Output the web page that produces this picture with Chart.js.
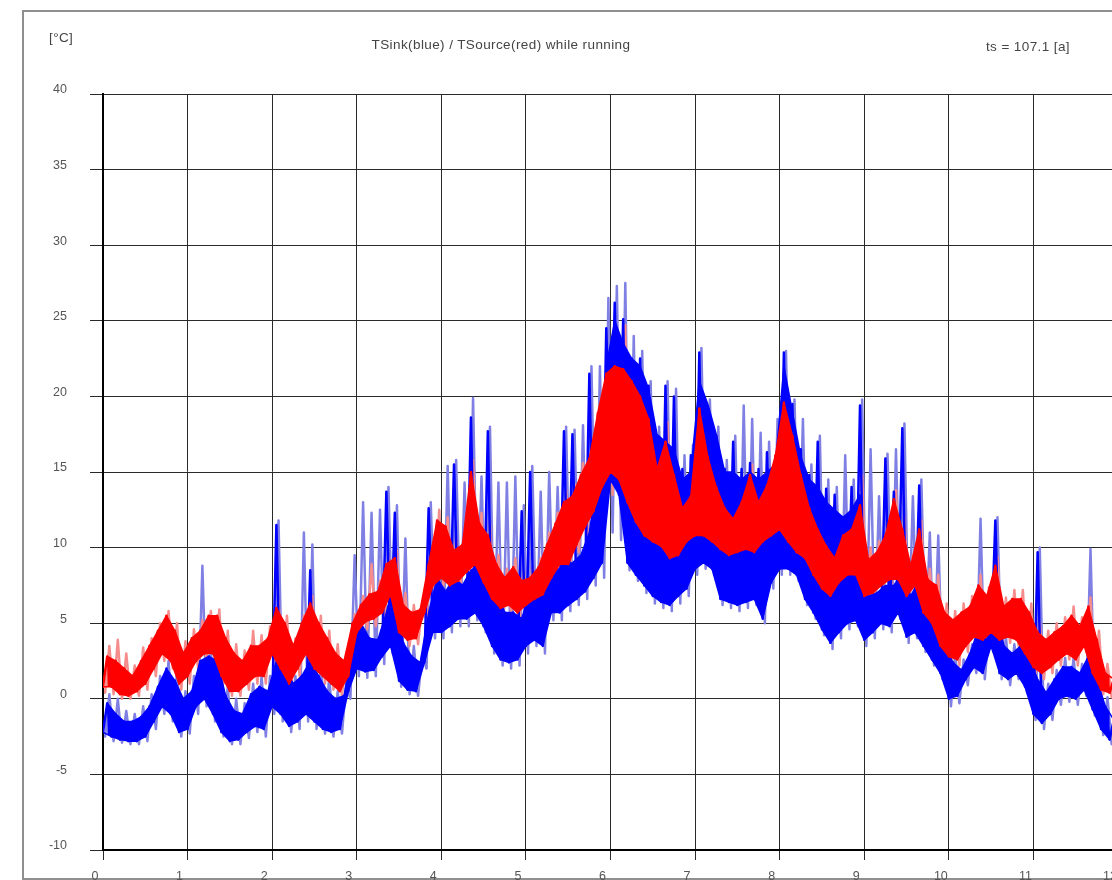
<!DOCTYPE html>
<html><head><meta charset="utf-8">
<script src="https://cdn.jsdelivr.net/npm/chart.js@4.4.1/dist/chart.umd.min.js"></script>
<style>
html,body{margin:0;padding:0;background:#fff;overflow:hidden;width:1112px;height:880px;}
#frame{position:absolute;left:22px;top:10px;width:1200px;height:866px;border:2px solid #8f8f8f;}
#wrap{position:absolute;left:0;top:0;width:1160px;height:900px;}
.lbl{position:absolute;font-family:"Liberation Sans",Arial,sans-serif;font-size:13.5px;letter-spacing:0.4px;line-height:16px;color:#444;white-space:nowrap;}
</style></head><body>
<div id="frame"></div>
<div id="wrap"><canvas id="c"></canvas></div>
<div class="lbl" style="left:49px;top:30px;">[°C]</div>
<div class="lbl" style="left:501px;top:37px;transform:translateX(-50%);">TSink(blue) / TSource(red) while running</div>
<div class="lbl" style="right:42px;top:39px;">ts = 107.1 [a]</div>
<script>
const xs = [0,0.1,0.2,0.3,0.4,0.5,0.6,0.7,0.8,0.9,
1,1.1,1.2,1.3,1.4,1.5,1.6,1.7,1.8,1.9,
2,2.1,2.2,2.3,2.4,2.5,2.6,2.7,2.8,2.9,
3,3.1,3.2,3.3,3.4,3.5,3.6,3.7,3.8,3.9,
4,4.1,4.2,4.3,4.4,4.5,4.6,4.7,4.8,4.9,
5,5.1,5.2,5.3,5.4,5.5,5.6,5.7,5.8,5.9,
6,6.1,6.2,6.3,6.4,6.5,6.6,6.7,6.8,6.9,
7,7.1,7.2,7.3,7.4,7.5,7.6,7.7,7.8,7.9,
8,8.1,8.2,8.3,8.4,8.5,8.6,8.7,8.8,8.9,
9,9.1,9.2,9.3,9.4,9.5,9.6,9.7,9.8,9.9,
10,10.1,10.2,10.3,10.4,10.5,10.6,10.7,10.8,10.9,
11,11.1,11.2,11.3,11.4,11.5,11.6,11.7,11.8,11.9];

// TSink (blue): dense band low / band top (no spikes) / high incl. spikes / light envelope min,max
const blueLo = [-2.2,-2.5,-2.7,-2.8,-2.8,-2.5,-1.5,-0.5,-1.0,-2.2,
-2.0,-0.5,0.0,-1.0,-2.2,-2.8,-2.7,-2.2,-1.8,-2.0,
-0.5,-1.0,-1.8,-1.5,-1.0,-1.5,-2.0,-2.2,-2.0,0.5,
2.0,1.8,1.9,2.8,3.5,1.2,0.6,0.5,2.4,4.4,
4.4,4.8,5.3,5.3,5.7,4.8,3.5,2.6,2.4,2.6,
3.5,3.9,3.5,5.7,5.7,6.2,6.6,7.1,8.0,9.0,
14.5,13.5,9.0,8.2,7.5,6.8,6.4,6.2,6.8,7.3,
8.6,9.0,8.6,6.6,6.4,6.2,6.4,6.6,5.3,7.7,
8.6,8.6,8.2,6.6,5.7,4.6,3.7,4.4,5.0,5.2,
3.9,4.4,5.0,4.8,5.7,4.1,4.4,3.5,2.6,1.7,
0.0,0.2,1.3,2.1,1.7,3.5,1.7,1.3,1.7,0.8,
-1.0,-1.6,-1.0,0.0,0.2,0.0,0.6,-0.7,-2.0,-2.7];
const blueTop = [-0.3,-1.0,-1.5,-1.5,-1.2,-0.5,0.8,2.0,1.2,0.0,
0.5,2.5,2.8,2.5,0.2,-0.8,-1.0,0.3,0.8,0.5,
2.5,2.0,1.0,1.5,2.5,1.5,0.5,0.0,0.2,3.5,
5.0,4.0,3.9,5.7,8.0,3.7,2.8,2.4,5.7,8.0,
7.1,8.0,7.5,8.5,8.9,7.5,7.1,5.7,5.7,5.3,
7.1,7.5,7.5,8.4,8.9,9.0,9.5,11.0,15.0,22.0,
25.0,23.5,22.5,22.0,20.5,17.5,17.0,16.5,14.5,15.0,
21.0,19.5,17.5,15.0,15.0,14.5,15.0,14.5,15.0,15.5,
22.0,19.0,16.0,14.5,14.0,13.0,12.5,12.0,12.5,13.5,
6.8,7.0,7.5,7.5,8.3,6.8,7.9,5.7,4.4,3.5,
2.4,1.9,3.0,4.6,3.9,6.6,3.5,3.0,3.5,2.6,
1.3,0.4,1.3,2.1,2.1,1.7,2.8,1.3,-0.5,-1.4];
const blueHi = [-0.3,-1.0,-1.5,-1.5,-1.2,-0.5,0.8,2.0,1.2,0.0,
0.5,2.5,2.8,2.5,0.2,-0.8,-1.0,0.3,0.8,0.5,
11.5,2.0,1.0,1.5,8.5,1.5,0.5,0.0,0.2,3.5,
5.0,4.0,3.9,13.7,12.3,3.7,2.8,2.4,12.6,8.0,
7.1,15.5,7.5,18.6,8.9,17.7,7.1,5.7,5.7,12.4,
15.0,7.5,7.5,8.4,17.7,17.5,9.3,21.5,12.0,24.5,
26.2,25.1,22.5,22.5,20.7,17.4,20.7,20.0,15.2,16.1,
22.9,19.2,17.4,15.2,17.0,15.2,15.6,15.2,16.3,16.0,
22.9,19.5,16.5,14.8,17.0,13.9,13.5,12.0,14.0,19.4,
6.8,7.0,15.9,13.7,17.9,6.8,14.1,5.7,4.4,3.5,
2.4,1.9,3.0,4.6,3.9,11.8,3.5,3.0,3.5,2.6,
9.7,0.4,1.3,2.1,2.1,1.7,2.8,1.3,-0.5,-1.4];
const blueMin = [-2.5,-2.8,-2.9,-3.0,-3.0,-2.8,-2.0,-1.0,-1.5,-2.5,
-2.3,-1.0,-0.5,-1.5,-2.5,-3.0,-3.0,-2.6,-2.2,-2.5,
-1.0,-1.5,-2.2,-2.0,-1.5,-2.0,-2.3,-2.5,-2.3,0.0,
1.5,1.4,1.5,2.3,3.0,0.8,0.3,0.2,2.0,4.0,
4.0,4.4,4.8,4.8,5.2,4.4,3.0,2.2,2.0,2.2,
3.0,3.5,3.0,5.2,5.2,5.8,6.2,6.6,7.5,8.0,
11.0,10.5,8.5,7.8,7.0,6.3,6.0,5.8,6.3,6.8,
8.2,8.6,8.2,6.2,6.0,5.8,6.0,6.2,5.0,7.3,
8.2,8.2,7.8,6.2,5.3,4.2,3.3,4.0,4.6,4.8,
3.5,4.0,4.6,4.4,5.3,3.7,4.0,3.1,2.2,1.3,
-0.5,-0.3,0.9,1.7,1.3,3.1,1.3,0.9,1.3,0.4,
-1.4,-2.0,-1.4,-0.4,-0.2,-0.4,0.2,-1.1,-2.4,-3.0];
const blueMax = [0.3,0.0,-0.8,-1.0,-0.5,0.3,1.5,2.5,1.8,0.5,
1.5,8.8,3.3,3.0,0.8,0.0,-0.3,1.0,1.5,1.5,
11.8,3.0,1.5,11.0,10.2,2.5,1.5,0.5,1.0,9.5,
13.0,12.3,12.5,14.0,12.8,10.6,3.5,3.0,13.0,9.5,
15.4,15.8,14.3,19.9,14.7,18.0,14.3,14.3,14.7,12.8,
15.4,13.7,15.0,14.0,18.0,17.8,18.1,22.0,22.0,26.5,
27.3,27.5,24.0,23.0,21.0,18.0,21.0,20.5,16.1,16.8,
23.2,19.8,18.0,15.8,17.4,19.4,18.5,17.6,17.0,18.5,
23.0,19.8,18.5,15.5,17.4,14.5,14.0,16.1,14.5,19.8,
16.5,13.4,16.2,16.5,18.2,13.4,14.5,11.0,10.8,4.2,
3.0,2.6,3.6,11.9,4.5,12.0,4.1,3.6,4.1,3.2,
10.0,1.0,1.9,2.7,2.7,2.3,9.9,1.9,0.1,-0.8];

// TSource (red): dense band low/high and light envelope min/max
const redLo = [0.8,0.8,0.3,0.2,0.5,1.0,2.0,3.0,2.5,1.0,
1.5,2.5,3.0,3.0,1.5,0.5,0.5,1.0,1.5,1.5,
3.0,2.0,1.0,2.0,3.0,2.0,1.5,1.0,0.5,1.5,
4.4,5.1,5.3,5.7,6.9,4.4,3.9,4.0,5.7,7.5,
8.0,7.5,7.8,8.4,8.9,7.7,6.6,6.0,6.2,5.7,
6.2,6.6,6.9,8.0,8.9,8.9,10.2,11.4,12.4,14.0,
15.0,14.5,13.0,11.7,10.8,10.4,10.1,9.3,9.5,10.4,
10.8,10.8,10.4,9.9,9.5,9.7,9.9,9.7,10.4,10.8,
11.2,10.4,9.7,9.3,8.2,7.3,6.8,7.7,8.2,8.2,
6.8,7.0,7.5,7.9,7.9,6.8,7.5,5.7,5.0,3.5,
2.8,2.6,3.5,4.1,3.9,4.4,3.9,4.1,3.9,3.0,
2.1,1.7,2.1,2.6,3.0,2.6,3.5,1.7,0.6,0.4];
const redHi = [2.8,2.5,2.0,1.5,2.5,3.5,4.5,5.5,4.5,3.0,
4.0,4.5,5.5,5.5,4.0,3.0,2.5,3.5,3.5,4.0,
6.0,5.0,3.5,5.0,6.3,5.0,4.0,3.0,2.5,5.0,
6.2,6.9,7.1,8.9,9.3,6.2,5.7,5.9,8.9,11.8,
11.4,9.8,10.2,15.0,11.6,10.8,8.9,8.0,8.7,7.8,
8.0,8.7,10.2,11.6,13.0,13.4,14.8,15.9,18.9,21.5,
22.0,21.8,21.0,20.0,18.5,15.2,17.0,14.8,12.6,13.4,
19.2,16.0,14.0,12.6,11.9,13.0,14.8,13.0,14.1,16.1,
19.6,17.4,14.8,12.6,11.2,10.1,9.3,10.8,11.2,12.8,
9.2,9.7,10.8,13.2,11.2,8.8,11.2,7.9,7.5,5.7,
5.2,5.7,6.1,7.5,6.8,8.8,6.1,6.6,6.6,5.7,
4.4,3.9,4.4,4.8,5.5,4.8,6.1,3.9,1.7,1.3];
const redMin = [0.4,0.3,0.0,0.0,0.2,0.6,1.5,2.5,2.0,0.6,
1.0,2.0,2.5,2.5,1.0,0.2,0.2,0.6,1.0,1.0,
2.5,1.5,0.6,1.5,2.5,1.5,1.0,0.6,0.2,1.0,
4.0,4.6,4.8,5.2,6.4,4.0,3.5,3.6,5.2,7.0,
7.5,7.0,7.3,8.0,8.4,7.2,6.2,5.6,5.8,5.3,
5.8,6.2,6.4,7.5,8.4,8.4,9.7,10.9,12.0,13.5,
13.5,13.0,12.0,11.0,10.2,9.8,9.6,8.8,9.0,9.9,
10.3,10.3,9.9,9.4,9.0,9.2,9.4,9.2,9.9,10.3,
10.7,9.9,9.2,8.8,7.7,6.8,6.3,7.2,7.7,7.7,
6.4,6.6,7.0,7.4,7.4,6.4,7.0,5.3,4.6,3.1,
2.4,2.2,3.1,3.7,3.5,4.0,3.5,3.7,3.5,2.6,
1.7,1.3,1.7,2.2,2.6,2.2,3.1,1.3,0.3,0.1];
const redMax = [3.5,3.9,3.0,2.2,3.4,4.0,5.0,5.8,5.0,3.8,
4.6,5.2,5.8,5.9,4.5,3.6,3.2,4.5,4.2,4.8,
6.5,5.5,4.0,5.5,6.8,5.5,4.5,3.6,3.0,5.6,
6.8,8.9,7.8,9.4,9.8,7.0,6.2,6.4,9.5,12.5,
12.0,10.5,11.0,15.8,12.3,11.5,9.5,8.6,9.3,8.4,
8.7,9.3,11.0,12.3,13.8,14.2,15.6,16.8,19.5,22.5,
23.5,24.7,22.0,21.0,19.5,16.0,18.3,15.5,13.3,14.2,
19.8,18.0,16.3,13.3,12.6,13.8,15.5,13.8,14.8,16.8,
20.2,18.0,15.5,13.3,11.9,10.8,10.0,11.5,11.9,14.8,
10.0,10.4,11.5,13.8,12.0,9.5,11.8,8.6,8.2,6.3,
5.8,6.3,6.8,8.2,7.4,9.4,6.7,7.2,7.2,6.3,
5.0,4.5,5.0,5.4,6.1,5.4,6.7,4.5,2.3,1.8];

const xTicks = [0,1,2,3,4,5,6,7,8,9,10,11,12];
const yTicks = [-10,-5,0,5,10,15,20,25,30,35,40];

// each sample interval shows its low and high reading as a dense trace
function trace(lo, hi, a, b){
  const step = xs[1]-xs[0];
  const pts = [];
  for(let i=0;i<xs.length;i++){
    pts.push({x: xs[i] + step*a, y: lo[i]});
    pts.push({x: xs[i] + step*b, y: hi[i]});
  }
  return pts;
}
function line(vals, a){
  const step = xs[1]-xs[0];
  return xs.map((x,i)=>({x: x + step*a, y: vals[i]}));
}
const base = {pointRadius:0, tension:0, fill:false, borderJoinStyle:'round', borderCapStyle:'round'};
const tickFont = {family:'"Liberation Sans", Arial, sans-serif', size:12.5};
const BL='rgb(128,128,228)', RL='rgb(246,140,140)', BD='#0000ff', RD='#ff0000';

new Chart(document.getElementById('c'), {
  type:'line',
  data:{datasets:[
    Object.assign({}, base, {label:'TSink range', data:trace(blueMin, blueMax, 0.25, 0.75), borderColor:BL, borderWidth:2.5, order:8}),
    Object.assign({}, base, {label:'TSource range', data:trace(redMin, redMax, 0.25, 0.75), borderColor:RL, borderWidth:2.5, order:7}),
    Object.assign({}, base, {label:'TSink low', data:line(blueLo, 0), borderColor:BD, borderWidth:1.5, order:6}),
    Object.assign({}, base, {label:'TSink band', data:line(blueTop, 0.5), borderColor:BD, borderWidth:1.5, backgroundColor:BD, fill:'-1', order:5}),
    Object.assign({}, base, {label:'TSink', data:trace(blueLo, blueHi, 0, 0.5), borderColor:BD, borderWidth:2.5, order:4}),
    Object.assign({}, base, {label:'TSource low', data:line(redLo, 0), borderColor:RD, borderWidth:1.5, order:3}),
    Object.assign({}, base, {label:'TSource band', data:line(redHi, 0.5), borderColor:RD, borderWidth:1.5, backgroundColor:RD, fill:'-1', order:2}),
    Object.assign({}, base, {label:'TSource', data:trace(redLo, redHi, 0, 0.5), borderColor:RD, borderWidth:2.5, order:1})
  ]},
  options:{
    responsive:true, maintainAspectRatio:false, animation:false,
    layout:{padding:{left:0, top:94, right:42, bottom:20}},
    plugins:{legend:{display:false}, tooltip:{enabled:false}, title:{display:false}, filler:{propagate:false}},
    scales:{
      x:{type:'linear', min:xTicks[0], max:xTicks[xTicks.length-1],
        afterBuildTicks(s){ s.ticks = xTicks.map(v=>({value:v})); },
        ticks:{padding:9, labelOffset:-8, color:'#555', font:tickFont, maxRotation:0, autoSkip:false},
        grid:{color:'#2a2a2a', lineWidth:1, tickLength:10},
        border:{color:'#000', width:2},
        afterFit(s){ s.height = 30; }
      },
      y:{type:'linear', min:yTicks[0], max:yTicks[yTicks.length-1],
        afterBuildTicks(s){ s.ticks = yTicks.map(v=>({value:v})); },
        ticks:{padding:23, labelOffset:-4, color:'#555', font:tickFont},
        grid:{color:'#2a2a2a', lineWidth:1, tickLength:13},
        border:{color:'#000', width:2},
        afterFit(s){ s.width = 103; }
      }
    }
  }
});
</script>
</body></html>
